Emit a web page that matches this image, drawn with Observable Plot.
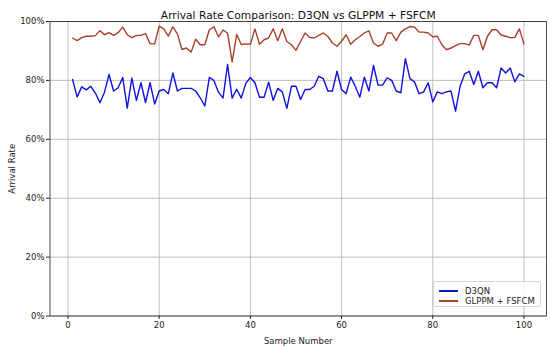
<!DOCTYPE html>
<html>
<head>
<meta charset="utf-8">
<script src="https://cdn.jsdelivr.net/npm/d3@7"></script>
<script src="https://cdn.jsdelivr.net/npm/@observablehq/plot@0.6"></script>
<style>
  body { margin: 0; background: #fff; font-family: "DejaVu Sans", sans-serif; }
  #wrap { position: relative; width: 550px; height: 346px; }
  #legend {
    position: absolute; left: 433px; top: 281px; width: 108px; height: 26px;
    border: 1px solid #d6d6d6; border-radius: 2px; background: rgba(255,255,255,0.85);
    font-size: 8.5px; color: #222; box-sizing: border-box;
  }
  #legend .row { position: absolute; left: 0; height: 10px; line-height: 10px; white-space: nowrap; }
  #legend .sw { position: absolute; left: 5px; top: 4.5px; width: 19px; height: 1.6px; }
  #legend .lab { position: absolute; left: 31px; top: 0; }
</style>
</head>
<body>
<div id="wrap">
  <div id="chart"></div>
  <div id="legend"></div>
</div>
<script>
const titleText = "Arrival Rate Comparison: D3QN vs GLPPM + FSFCM";
const xLabel = "Sample Number";
const yLabel = "Arrival Rate";
const seriesNames = ["D3QN", "GLPPM + FSFCM"];
const seriesColors = ["#1010e0", "#a8402a"];
const xTicks = [0, 20, 40, 60, 80, 100];
const yTicks = [0, 20, 40, 60, 80, 100];

const sampleNumbers = d3.range(1, 101);

const d3qn = [
  80.3, 74.4, 77.8, 76.8, 78.0, 75.7, 72.4, 76.0, 82.0, 76.4,
  77.5, 81.0, 70.6, 80.8, 73.2, 79.2, 72.5, 79.2, 72.0, 76.4,
  76.9, 75.5, 82.5, 76.4, 77.3, 77.3, 77.3, 76.4, 74.1, 71.3,
  81.0, 80.0, 76.0, 74.0, 85.4, 74.0, 77.0, 74.0, 79.0, 81.0,
  79.2, 74.3, 74.3, 79.4, 73.2, 77.3, 76.1, 70.5, 78.0, 78.0,
  73.5, 76.9, 76.9, 78.0, 81.4, 80.6, 76.4, 76.4, 83.1, 76.9,
  75.5, 81.1, 78.0, 74.3, 81.1, 76.4, 85.1, 78.4, 78.4, 80.9,
  80.0, 76.4, 75.8, 87.4, 80.6, 79.5, 75.5, 76.1, 79.2, 72.7,
  76.1, 75.5, 76.1, 76.4, 69.6, 78.0, 82.2, 83.1, 78.6, 83.1,
  77.5, 79.2, 79.2, 77.5, 84.2, 82.5, 84.2, 79.5, 82.2, 81.4
];

const glppmFsfcm = [
  94.4, 93.5, 94.5, 95.0, 95.0, 95.2, 96.9, 95.5, 96.2, 95.3,
  96.2, 98.1, 95.5, 94.5, 95.3, 95.3, 95.9, 92.4, 92.4, 98.4,
  97.5, 95.0, 98.2, 95.8, 90.5, 91.0, 89.6, 94.0, 92.1, 92.1,
  97.2, 98.2, 94.8, 97.1, 96.0, 86.3, 95.6, 92.2, 92.4, 92.3,
  97.5, 92.3, 93.8, 94.4, 97.5, 93.5, 97.5, 93.2, 92.1, 90.2,
  93.2, 96.1, 94.6, 94.4, 95.3, 96.1, 94.9, 92.7, 91.6, 93.3,
  95.5, 92.3, 93.8, 94.9, 96.1, 96.8, 92.7, 91.6, 92.3, 96.1,
  96.1, 93.5, 96.4, 97.5, 98.3, 98.1, 96.4, 96.4, 96.1, 94.8,
  95.0, 92.1, 90.4, 91.0, 91.8, 92.5, 92.5, 92.0, 95.3, 95.3,
  90.4, 95.0, 97.2, 97.2, 95.4, 95.0, 94.5, 94.6, 97.5, 92.4
];

const rowsA = sampleNumbers.map((x, i) => ({x, y: d3qn[i]}));
const rowsB = sampleNumbers.map((x, i) => ({x, y: glppmFsfcm[i]}));

const chart = Plot.plot({
  width: 550,
  height: 346,
  marginTop: 21,
  marginBottom: 30.5,
  marginLeft: 49.5,
  marginRight: 4,
  style: { fontFamily: "DejaVu Sans, sans-serif", fontSize: "8.5px", color: "#222", background: "#fff" },
  x: { domain: [-3.95, 104.95] },
  y: { domain: [0, 100] },
  marks: [
    Plot.gridX(xTicks, { stroke: "#b0b0b0", strokeOpacity: 1, strokeWidth: 0.8 }),
    Plot.gridY(yTicks, { stroke: "#b0b0b0", strokeOpacity: 1, strokeWidth: 0.8 }),
    Plot.axisX(xTicks, { tickSize: 3.5, tickPadding: 2, fontSize: 8.5, label: xLabel, labelAnchor: "center", labelArrow: "none", labelOffset: 28 }),
    Plot.axisY(yTicks, { tickSize: 3.5, tickPadding: 2, fontSize: 8.5, tickFormat: d => d + "%", label: yLabel, labelAnchor: "center", labelArrow: "none", labelOffset: 41 }),
    Plot.lineY(rowsA, { x: "x", y: "y", stroke: seriesColors[0], strokeWidth: 1.4 }),
    Plot.lineY(rowsB, { x: "x", y: "y", stroke: seriesColors[1], strokeWidth: 1.4 }),
    Plot.frame({ stroke: "#222", strokeWidth: 0.8 }),
    Plot.text([titleText], { frameAnchor: "top", dy: -10, fontSize: 10.7, fill: "#111" })
  ]
});
document.getElementById("chart").appendChild(chart);

const legend = document.getElementById("legend");
seriesNames.forEach((name, i) => {
  const row = document.createElement("div");
  row.className = "row";
  row.style.top = (3.5 + i * 10.3) + "px";
  row.style.width = "100%";
  const sw = document.createElement("span");
  sw.className = "sw";
  sw.style.background = seriesColors[i];
  const lab = document.createElement("span");
  lab.className = "lab";
  lab.textContent = name;
  row.appendChild(sw);
  row.appendChild(lab);
  legend.appendChild(row);
});
</script>
</body>
</html>
